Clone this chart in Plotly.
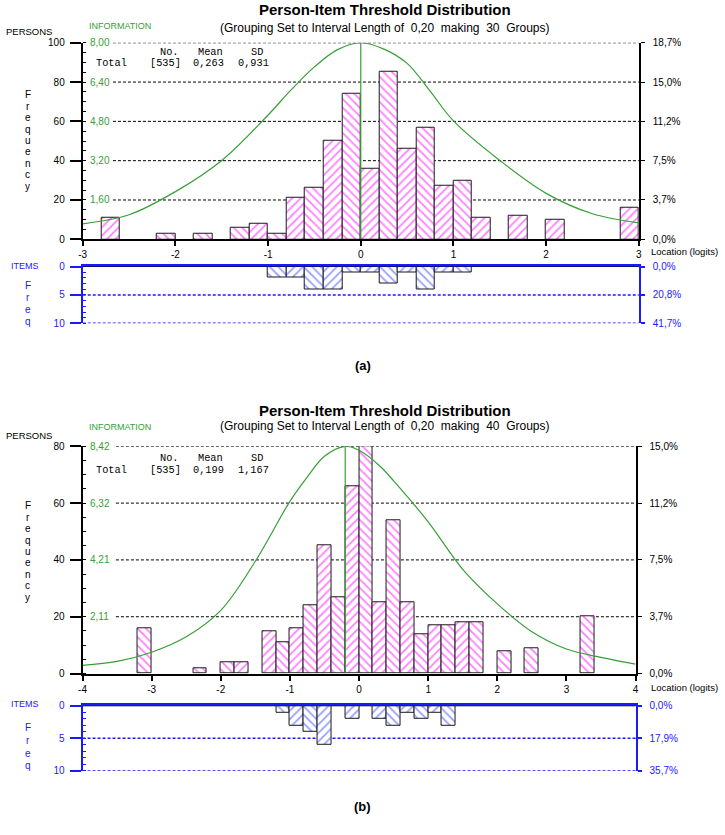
import plotly.graph_objects as go

W, H = 725, 835

# ------------------------------------------------------------------ data
# Panel (a): interval 0.20, 30 groups on -3..3
person_bins_a = [-2.7, -2.1, -1.7, -1.3, -1.1, -0.9, -0.7, -0.5, -0.3, -0.1,
                 0.1, 0.3, 0.5, 0.7, 0.9, 1.1, 1.3, 1.7, 2.1, 2.9]
person_freq_a = [11, 3, 3, 6, 8, 3, 21, 26, 50, 74,
                 36, 85, 46, 57, 27, 30, 11, 12, 10, 16]
item_bins_a = [-0.9, -0.7, -0.5, -0.3, -0.1, 0.1, 0.3, 0.5, 0.7, 0.9, 1.1]
item_freq_a = [2, 2, 4, 4, 1, 1, 3, 1, 4, 1, 1]
info_x_a = [-3, -2.5, -2, -1.5, -1, -0.75, -0.5, -0.25, 0, 0.25, 0.5, 0.75, 1, 1.5, 2, 2.5, 3]
info_y_a = [0.63, 1.0, 1.94, 3.21, 5.06, 6.09, 7.02, 7.72, 8.0, 7.74, 7.16, 6.02, 4.82, 3.21, 1.87, 1.04, 0.67]
info_peak_a = 0.0

# Panel (b): interval 0.20, 40 groups on -4..4
person_bins_b = [-3.1, -2.3, -1.9, -1.7, -1.3, -1.1, -0.9, -0.7, -0.5, -0.3, -0.1,
                 0.1, 0.3, 0.5, 0.7, 0.9, 1.1, 1.3, 1.5, 1.7, 2.1, 2.5, 3.3]
person_freq_b = [16, 2, 4, 4, 15, 11, 16, 24, 45, 27, 66,
                 80, 25, 54, 25, 14, 17, 17, 18, 18, 8, 9, 20]
item_bins_b = [-1.1, -0.9, -0.7, -0.5, -0.1, 0.3, 0.5, 0.7, 0.9, 1.1, 1.3]
item_freq_b = [1, 3, 4, 6, 2, 2, 3, 1, 2, 1, 3]
info_x_b = [-4, -3.5, -3, -2.5, -2, -1.5, -1, -0.75, -0.5, -0.2, 0, 0.3, 0.5, 1, 1.5, 2, 2.5, 3, 3.5, 4]
info_y_b = [0.30, 0.45, 0.79, 1.36, 2.34, 4.16, 6.38, 7.28, 8.05, 8.42, 8.27, 7.69, 7.14, 5.62, 3.86, 2.58, 1.55, 0.91, 0.60, 0.35]
info_peak_b = -0.2

# ticks / labels
x_ticks_a = [-3, -2, -1, 0, 1, 2, 3]
x_ticks_b = [-4, -3, -2, -1, 0, 1, 2, 3, 4]
count_ticks_a = [0, 20, 40, 60, 80, 100]
count_ticks_b = [0, 20, 40, 60, 80]
pct_labels_a = ["0,0%", "3,7%", "7,5%", "11,2%", "15,0%", "18,7%"]
pct_labels_b = ["0,0%", "3,7%", "7,5%", "11,2%", "15,0%"]
info_ticks_a = [1.60, 3.20, 4.80, 6.40, 8.00]
info_labels_a = ["1,60", "3,20", "4,80", "6,40", "8,00"]
info_ticks_b = [2.105, 4.21, 6.315, 8.42]
info_labels_b = ["2,11", "4,21", "6,32", "8,42"]
item_ticks = [0, 5, 10]
item_pct_a = ["0,0%", "20,8%", "41,7%"]
item_pct_b = ["0,0%", "17,9%", "35,7%"]
stats_a = ["[535]", "0,263", "0,931"]
stats_b = ["[535]", "0,199", "1,167"]
groups_a, groups_b = 30, 40

# ------------------------------------------------------------------ style
SANS = "Liberation Sans, Arial, sans-serif"
MONO = "Liberation Mono, Courier New, monospace"
PINK = "#ff00ff"
BLUE = "#1a1aff"
IBLUE = "#2f3fff"
GREEN = "#35a035"
BIN = 0.2


def px_x(p):
    return p / W


def px_y(p):
    return 1 - p / H


def pattern_shapes(centers, xmin):
    out = []
    for c in centers:
        idx = int(round((c - xmin) / BIN - 0.5))
        out.append("\\" if idx % 2 == 0 else "/")
    return out


fig = go.Figure()
annotations = []
shapes = []
layout = {}


def panel(cfg):
    xa, ya, ia, pa = cfg["xa"], cfg["ya"], cfg["ia"], cfg["pa"]
    xb, yb, pb = cfg["xb"], cfg["yb"], cfg["pb"]
    xmin, xmax = cfg["xrange"]
    ymax = cfg["count_ticks"][-1]
    dom_x = cfg["dom_x"]

    fig.add_trace(go.Bar(
        x=cfg["pbins"], y=cfg["pfreq"], width=BIN, xaxis=xa, yaxis=ya,
        marker=dict(color="white", line=dict(color="#1a1a1a", width=1),
                    pattern=dict(shape=pattern_shapes(cfg["pbins"], xmin),
                                 fgcolor=PINK, bgcolor="white", size=6, solidity=0.3)),
        hoverinfo="skip", showlegend=False))
    fig.add_trace(go.Scatter(
        x=cfg["ix"], y=cfg["iy"], xaxis=xa, yaxis=ia, mode="lines",
        line=dict(color=GREEN, width=1.2, shape="spline", smoothing=1.0),
        hoverinfo="skip", showlegend=False))
    fig.add_trace(go.Scatter(
        x=[cfg["peak"], cfg["peak"]], y=[0, max(cfg["iy"])], xaxis=xa, yaxis=ia,
        mode="lines", line=dict(color=GREEN, width=1.2),
        hoverinfo="skip", showlegend=False))
    fig.add_trace(go.Scatter(x=[xmin], y=[0], xaxis=xa, yaxis=pa, mode="markers",
                             marker=dict(opacity=0), hoverinfo="skip", showlegend=False))
    fig.add_trace(go.Bar(
        x=cfg["ibins"], y=cfg["ifreq"], width=BIN, xaxis=xb, yaxis=yb,
        marker=dict(color="white", line=dict(color="#1a1a1a", width=1),
                    pattern=dict(shape=pattern_shapes(cfg["ibins"], xmin),
                                 fgcolor=IBLUE, bgcolor="white", size=6, solidity=0.3)),
        hoverinfo="skip", showlegend=False))
    fig.add_trace(go.Scatter(x=[xmin], y=[0], xaxis=xb, yaxis=pb, mode="markers",
                             marker=dict(opacity=0), hoverinfo="skip", showlegend=False))

    def key(a, axis):
        return axis + "axis" + a[1:]

    tickfont = dict(family=SANS, size=10, color="black")
    blue_font = dict(family=SANS, size=10, color=BLUE)

    layout[key(xa, "x")] = dict(
        domain=dom_x, range=[xmin, xmax], anchor=ya, showgrid=False, zeroline=False,
        showline=True, linecolor="black", linewidth=2,
        ticks="outside", ticklen=5, tickwidth=1.5, tickcolor="black",
        tickvals=cfg["xticks"], ticktext=[str(v) for v in cfg["xticks"]],
        tickfont=tickfont, fixedrange=True)
    layout[key(ya, "y")] = dict(
        domain=cfg["dom_y"], range=[0, ymax], anchor=xa, showgrid=False, zeroline=False,
        showline=True, linecolor="black", linewidth=2,
        ticks="outside", ticklen=11, tickwidth=1.5, tickcolor="black",
        tickvals=cfg["count_ticks"], ticktext=[str(v) for v in cfg["count_ticks"]],
        tickfont=tickfont, ticklabelstandoff=3,
        minor=dict(dtick=5, ticks="inside", ticklen=3, tickcolor="black", tickwidth=1),
        fixedrange=True)
    layout[key(ia, "y")] = dict(
        overlaying=ya, anchor=xa, side="left", range=[0, cfg["info_ticks"][-1]],
        showgrid=False, zeroline=False, showline=False, ticks="",
        showticklabels=False, fixedrange=True)
    layout[key(pa, "y")] = dict(
        overlaying=ya, anchor=xa, side="right", range=[0, ymax],
        showgrid=False, zeroline=False, showline=True, linecolor="black", linewidth=2,
        ticks="outside", ticklen=4, tickcolor="black",
        tickvals=cfg["count_ticks"], ticktext=cfg["pct_labels"],
        tickfont=tickfont, ticklabelstandoff=6, fixedrange=True)
    layout[key(xb, "x")] = dict(
        domain=dom_x, range=[xmin, xmax], anchor=yb, side="top", showgrid=False,
        zeroline=False, showline=True, linecolor=BLUE, linewidth=3,
        showticklabels=False, ticks="", fixedrange=True)
    layout[key(yb, "y")] = dict(
        domain=cfg["dom_yi"], range=[10, 0], anchor=xb, showgrid=False, zeroline=False,
        showline=True, linecolor=BLUE, linewidth=2,
        ticks="outside", ticklen=11, tickwidth=2, tickcolor=BLUE,
        tickvals=item_ticks, ticktext=[str(v) for v in item_ticks],
        tickfont=blue_font, ticklabelstandoff=3,
        minor=dict(dtick=1, ticks="inside", ticklen=3, tickcolor=BLUE, tickwidth=1),
        fixedrange=True)
    layout[key(pb, "y")] = dict(
        overlaying=yb, anchor=xb, side="right", range=[10, 0],
        showgrid=False, zeroline=False, showline=True, linecolor=BLUE, linewidth=2,
        ticks="outside", ticklen=4, tickcolor=BLUE, tickwidth=2,
        tickvals=item_ticks, ticktext=cfg["ipct"],
        tickfont=blue_font, ticklabelstandoff=6, fixedrange=True)

    for v in cfg["count_ticks"][1:]:
        shapes.append(dict(type="line", xref=xa + " domain", x0=cfg["grid_x0"], x1=1,
                           yref=ya, y0=v, y1=v, layer="below",
                           line=dict(color="black", width=1, dash="3px,2px")))
    for v in item_ticks[1:]:
        shapes.append(dict(type="line", xref=xb + " domain", x0=0, x1=1,
                           yref=yb, y0=v, y1=v, layer="below",
                           line=dict(color=BLUE, width=1.5, dash="3px,2px")))
    shapes.append(dict(type="line", xref=xb + " domain", x0=0, x1=1,
                       yref=yb, y0=0, y1=0, layer="above",
                       line=dict(color="black", width=1)))

    for v, t in zip(cfg["info_ticks"], cfg["info_labels"]):
        annotations.append(dict(text=t, x=px_x(85), y=v, xref="paper", yref=ia,
                                showarrow=False, xanchor="left", yanchor="middle",
                                font=dict(family=SANS, size=10, color=GREEN)))

    annotations.append(dict(text="<b>Person-Item Threshold Distribution</b>", x=px_x(385),
                            y=px_y(cfg["title_y"]), xref="paper", yref="paper", showarrow=False,
                            xanchor="center", yanchor="middle",
                            font=dict(family=SANS, size=15, color="black")))
    annotations.append(dict(
        text="(Grouping Set to Interval Length of  0,20  making  %d  Groups)" % cfg["groups"],
        x=px_x(385), y=px_y(cfg["sub_y"]), xref="paper", yref="paper", showarrow=False,
        xanchor="center", yanchor="middle", font=dict(family=SANS, size=12, color="black")))
    annotations.append(dict(text="INFORMATION", x=px_x(84), y=px_y(cfg["info_y"]),
                            xref="paper", yref="paper", showarrow=False, xanchor="left",
                            yanchor="middle", font=dict(family=SANS, size=9, color=GREEN)))
    annotations.append(dict(text="PERSONS", x=px_x(0), y=px_y(cfg["pers_y"]),
                            xref="paper", yref="paper", showarrow=False, xanchor="left",
                            yanchor="middle", font=dict(family=SANS, size=9.5, color="black")))
    for i, ch in enumerate("Frequency"):
        annotations.append(dict(text=ch, x=px_x(24), y=px_y(cfg["freq_y0"] + i * 11.6),
                                xref="paper", yref="paper", showarrow=False, xanchor="center",
                                yanchor="middle", font=dict(family=SANS, size=10, color="black")))
    annotations.append(dict(text="ITEMS", x=px_x(5), y=px_y(cfg["items_y"]),
                            xref="paper", yref="paper", showarrow=False, xanchor="left",
                            yanchor="middle", font=dict(family=SANS, size=9, color=BLUE)))
    for i, ch in enumerate("Freq"):
        annotations.append(dict(text=ch, x=px_x(24), y=px_y(cfg["ifreq_y0"] + i * cfg["ifreq_dy"]),
                                xref="paper", yref="paper", showarrow=False, xanchor="center",
                                yanchor="middle", font=dict(family=SANS, size=10, color=BLUE)))
    annotations.append(dict(text="Location (logits)", x=px_x(651), y=px_y(cfg["loc_y"]),
                            xref="paper", yref="paper", showarrow=False, xanchor="left",
                            yanchor="middle", font=dict(family=SANS, size=9.5, color="black")))
    sy0, sy1 = cfg["stat_y"]
    for txt, xp, yp in [("No.", 156, sy0), ("Mean", 194, sy0), ("SD", 247, sy0),
                        ("Total", 91, sy1), (cfg["stats"][0], 145, sy1),
                        (cfg["stats"][1], 189, sy1), (cfg["stats"][2], 234, sy1)]:
        annotations.append(dict(text=txt, x=px_x(xp), y=px_y(yp), xref="paper", yref="paper",
                                showarrow=False, xanchor="left", yanchor="middle",
                                font=dict(family=MONO, size=10.3, color="black")))
    annotations.append(dict(text="<b>%s</b>" % cfg["tag"], x=px_x(362), y=px_y(cfg["tag_y"]),
                            xref="paper", yref="paper", showarrow=False, xanchor="center",
                            yanchor="middle", font=dict(family=SANS, size=13, color="black")))


panel(dict(
    xa="x", ya="y", ia="y5", pa="y6", xb="x2", yb="y2", pb="y7",
    xrange=(-3, 3), dom_x=[px_x(79.5), px_x(641)],
    dom_y=[px_y(236.7), px_y(37.3)], dom_yi=[px_y(322), px_y(264.3)],
    pbins=person_bins_a, pfreq=person_freq_a, ibins=item_bins_a, ifreq=item_freq_a,
    ix=info_x_a, iy=info_y_a, peak=info_peak_a,
    xticks=x_ticks_a, count_ticks=count_ticks_a, pct_labels=pct_labels_a,
    info_ticks=info_ticks_a, info_labels=info_labels_a, ipct=item_pct_a,
    grid_x0=(110 - 79.5) / (641 - 79.5), groups=groups_a, stats=stats_a,
    title_y=4, sub_y=22, info_y=20.5, pers_y=26, freq_y0=90,
    items_y=263.5, ifreq_y0=284, ifreq_dy=12, loc_y=249.5, stat_y=(47, 58.3),
    tag="(a)", tag_y=365))

panel(dict(
    xa="x3", ya="y3", ia="y8", pa="y9", xb="x4", yb="y4", pb="y10",
    xrange=(-4, 4), dom_x=[px_x(79.3), px_x(637.7)],
    dom_y=[px_y(677.3), px_y(446.7)], dom_yi=[px_y(776), px_y(710)],
    pbins=person_bins_b, pfreq=person_freq_b, ibins=item_bins_b, ifreq=item_freq_b,
    ix=info_x_b, iy=info_y_b, peak=info_peak_b,
    xticks=x_ticks_b, count_ticks=count_ticks_b, pct_labels=pct_labels_b,
    info_ticks=info_ticks_b, info_labels=info_labels_b, ipct=item_pct_b,
    grid_x0=(113 - 79.3) / (637.7 - 79.3), groups=groups_b, stats=stats_b,
    title_y=410, sub_y=426, info_y=427, pers_y=436, freq_y0=507,
    items_y=708.5, ifreq_y0=732, ifreq_dy=13, loc_y=691, stat_y=(458.3, 471),
    tag="(b)", tag_y=812))

fig.update_layout(
    width=W, height=H, margin=dict(l=0, r=0, t=0, b=0),
    paper_bgcolor="white", plot_bgcolor="white",
    barmode="overlay", bargap=0, showlegend=False,
    annotations=annotations, shapes=shapes, **layout)

fig.write_html("out.html", config={"displayModeBar": False},
               post_script="document.body.style.margin='0px';document.body.style.overflow='hidden';")
